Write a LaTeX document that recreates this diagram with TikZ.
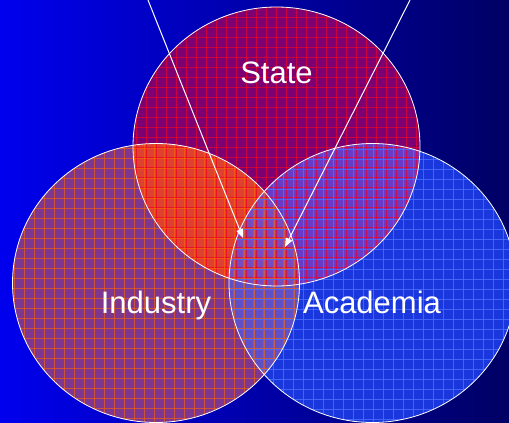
\documentclass[tikz,border=0pt]{standalone}
\usepackage{fontspec}
\setmainfont{Liberation Sans}
\usepackage{tikz}
\usetikzlibrary{arrows.meta,calc,positioning}
\definecolor{bgleft}{RGB}{0,0,238}
\definecolor{bgmid}{RGB}{0,0,212}
\definecolor{bgright}{RGB}{0,0,100}
\definecolor{statebase}{RGB}{125,0,115}
\definecolor{stateline}{RGB}{235,0,40}
\definecolor{indbase}{RGB}{125,55,145}
\definecolor{indline}{RGB}{255,100,0}
\definecolor{acabase}{RGB}{25,55,220}
\definecolor{acaline}{RGB}{75,110,255}
\definecolor{siover}{RGB}{220,65,50}
\definecolor{saover}{RGB}{105,60,200}
\definecolor{iaover}{RGB}{95,80,200}
\definecolor{allover}{RGB}{120,75,190}
\def\radx{143.5pt}
\def\rady{139.5pt}

\begin{document}
\begin{tikzpicture}[x=1pt,y=-1pt,
			rim/.style={draw=white,line width=0.8pt},
			gridlines/.style={line width=0.7pt,opacity=.75},
			sector/.style={text=white,font=\fontsize{31}{37}\selectfont,anchor=base},
			pointer/.style={draw=white,line width=1pt,-{Triangle[length=9pt,width=7pt]}}]
			\useasboundingbox (0,0) rectangle (509,423);
			\clip (0,0) rectangle (509,423);
			\shade[left color=bgleft,middle color=bgmid,right color=bgright] (0,0) rectangle (509,423);
			\coordinate (cS) at (276.5,146.5);
			\coordinate (cI) at (156,283);
			\coordinate (cA) at (372.5,283);
			\fill[statebase] (cS) ellipse [x radius=\radx,y radius=\rady];
			\fill[indbase] (cI) ellipse [x radius=\radx,y radius=\rady];
			\fill[acabase] (cA) ellipse [x radius=\radx,y radius=\rady];
			\begin{scope}
				\clip (cA) ellipse [x radius=\radx,y radius=\rady];
				\fill[saover] (cS) ellipse [x radius=\radx,y radius=\rady];
			\end{scope}
			\begin{scope}
				\clip (cI) ellipse [x radius=\radx,y radius=\rady];
				\fill[siover] (cS) ellipse [x radius=\radx,y radius=\rady];
				\fill[iaover] (cA) ellipse [x radius=\radx,y radius=\rady];
				\clip (cS) ellipse [x radius=\radx,y radius=\rady];
				\fill[allover] (cA) ellipse [x radius=\radx,y radius=\rady];
			\end{scope}
			\begin{scope}
				\clip (cS) ellipse [x radius=\radx,y radius=\rady];
				\foreach \k in {0,...,50} \draw[gridlines,stateline,opacity=.7] (6+10*\k,0) -- (6+10*\k,423);
				\foreach \k in {0,...,42} \draw[gridlines,stateline,opacity=.7] (0,7+10*\k) -- (509,7+10*\k);
			\end{scope}
			\begin{scope}
				\clip (cI) ellipse [x radius=\radx,y radius=\rady];
				\foreach \k in {0,...,50} \draw[gridlines,indline,opacity=.6] (4+10*\k,0) -- (4+10*\k,423);
				\foreach \k in {0,...,42} \draw[gridlines,indline,opacity=.6] (0,8+10*\k) -- (509,8+10*\k);
			\end{scope}
			\begin{scope}
				\clip (cA) ellipse [x radius=\radx,y radius=\rady];
				\foreach \k in {0,...,50} \draw[gridlines,acaline,opacity=.8] (3+10*\k,0) -- (3+10*\k,423);
				\foreach \k in {0,...,42} \draw[gridlines,acaline,opacity=.8] (0,9+10*\k) -- (509,9+10*\k);
			\end{scope}
			\draw[rim] (cS) ellipse [x radius=\radx,y radius=\rady];
			\draw[rim] (cI) ellipse [x radius=\radx,y radius=\rady];
			\draw[rim] (cA) ellipse [x radius=\radx,y radius=\rady];
			\node[sector] (state) at (276.5,83) {State};
			\node[sector] (industry) at (156,313) {Industry};
			\node[sector] (academia) at (372,313) {Academia};
			\coordinate (fromL) at (148,0);
			\coordinate (toL) at (243,238);
			\coordinate (fromR) at (410,0);
			\coordinate (toR) at (285,247);
			\draw[pointer] (fromL) -- (toL);
			\draw[pointer] (fromR) -- (toR);
\end{tikzpicture}
\end{document}
